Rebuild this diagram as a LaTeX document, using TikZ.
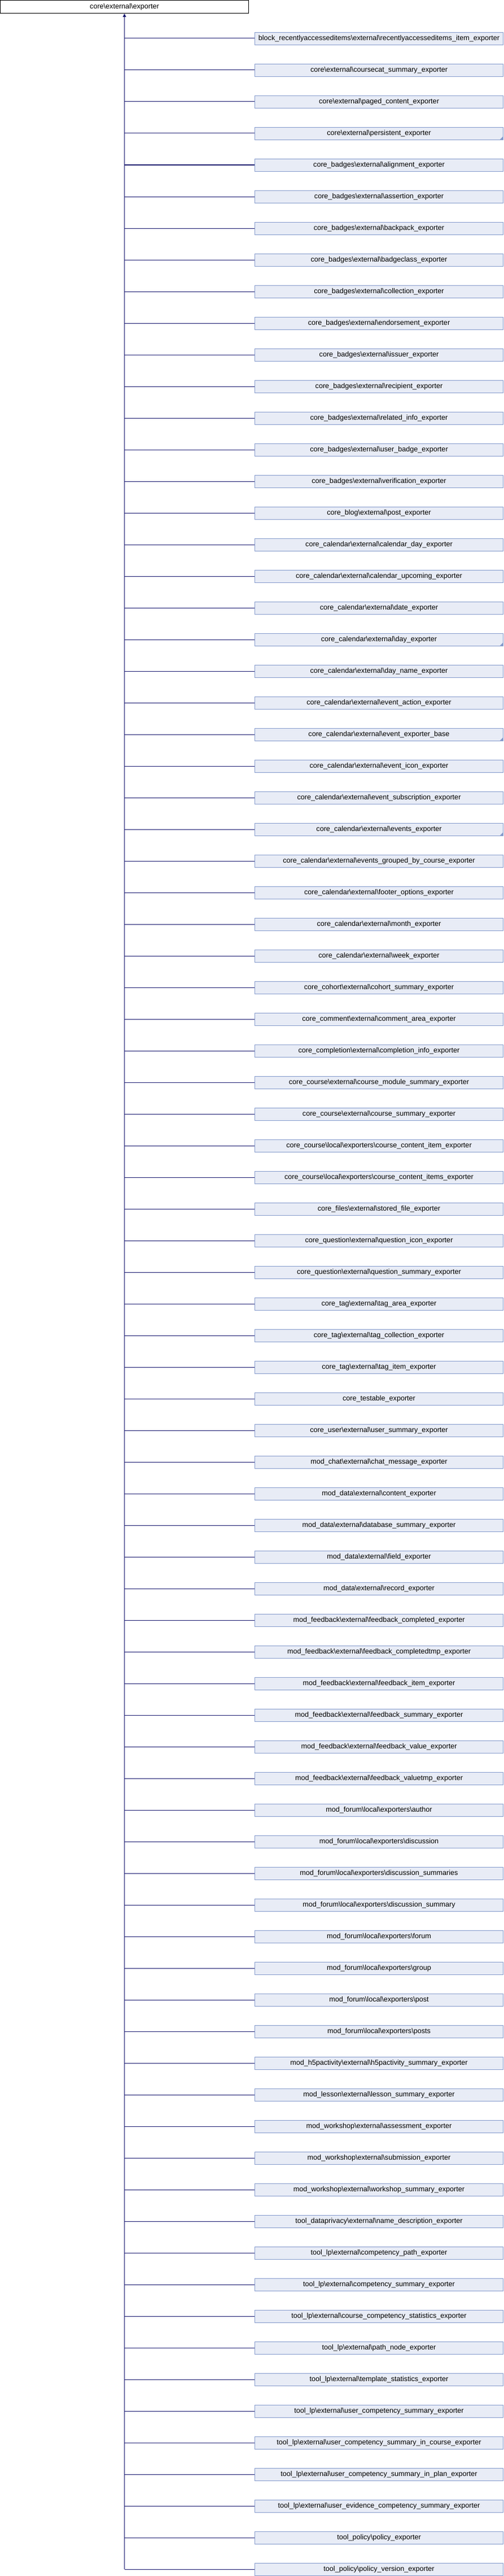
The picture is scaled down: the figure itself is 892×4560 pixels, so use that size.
\documentclass[tikz,border=0pt]{standalone}
\usepackage{fontspec}
\setmainfont{Liberation Sans}
\usepackage{tikz}
\definecolor{classfill}{RGB}{232,236,246}
\definecolor{classedge}{RGB}{132,154,204}
\definecolor{linkblue}{RGB}{25,25,112}
\usetikzlibrary{arrows.meta}
\newcommand\bs{\textbackslash}

\begin{document}
\catcode`\_=12
\begin{tikzpicture}[x=1pt,y=1pt,
        every node/.style={font=\fontsize{12.6}{14}\selectfont, inner sep=0pt},
        baseclass/.style={draw=black, fill=white, minimum width=440pt, minimum height=23pt},
        derived/.style={draw=classedge, fill=classfill, minimum width=440pt, minimum height=22pt},
        link/.style={draw=linkblue, line width=1pt}]
        \useasboundingbox (0,0) rectangle (892,-4560);

        \node[baseclass] (exporter) at (220.5,-12) {core\bs external\bs exporter};

        \foreach \name [count=\i] in {
            block_recentlyaccesseditems\bs external\bs recentlyaccesseditems_item_exporter,
            core\bs external\bs coursecat_summary_exporter,
            core\bs external\bs paged_content_exporter,
            core\bs external\bs persistent_exporter,
            core_badges\bs external\bs alignment_exporter,
            core_badges\bs external\bs assertion_exporter,
            core_badges\bs external\bs backpack_exporter,
            core_badges\bs external\bs badgeclass_exporter,
            core_badges\bs external\bs collection_exporter,
            core_badges\bs external\bs endorsement_exporter,
            core_badges\bs external\bs issuer_exporter,
            core_badges\bs external\bs recipient_exporter,
            core_badges\bs external\bs related_info_exporter,
            core_badges\bs external\bs user_badge_exporter,
            core_badges\bs external\bs verification_exporter,
            core_blog\bs external\bs post_exporter,
            core_calendar\bs external\bs calendar_day_exporter,
            core_calendar\bs external\bs calendar_upcoming_exporter,
            core_calendar\bs external\bs date_exporter,
            core_calendar\bs external\bs day_exporter,
            core_calendar\bs external\bs day_name_exporter,
            core_calendar\bs external\bs event_action_exporter,
            core_calendar\bs external\bs event_exporter_base,
            core_calendar\bs external\bs event_icon_exporter,
            core_calendar\bs external\bs event_subscription_exporter,
            core_calendar\bs external\bs events_exporter,
            core_calendar\bs external\bs events_grouped_by_course_exporter,
            core_calendar\bs external\bs footer_options_exporter,
            core_calendar\bs external\bs month_exporter,
            core_calendar\bs external\bs week_exporter,
            core_cohort\bs external\bs cohort_summary_exporter,
            core_comment\bs external\bs comment_area_exporter,
            core_completion\bs external\bs completion_info_exporter,
            core_course\bs external\bs course_module_summary_exporter,
            core_course\bs external\bs course_summary_exporter,
            core_course\bs local\bs exporters\bs course_content_item_exporter,
            core_course\bs local\bs exporters\bs course_content_items_exporter,
            core_files\bs external\bs stored_file_exporter,
            core_question\bs external\bs question_icon_exporter,
            core_question\bs external\bs question_summary_exporter,
            core_tag\bs external\bs tag_area_exporter,
            core_tag\bs external\bs tag_collection_exporter,
            core_tag\bs external\bs tag_item_exporter,
            core_testable_exporter,
            core_user\bs external\bs user_summary_exporter,
            mod_chat\bs external\bs chat_message_exporter,
            mod_data\bs external\bs content_exporter,
            mod_data\bs external\bs database_summary_exporter,
            mod_data\bs external\bs field_exporter,
            mod_data\bs external\bs record_exporter,
            mod_feedback\bs external\bs feedback_completed_exporter,
            mod_feedback\bs external\bs feedback_completedtmp_exporter,
            mod_feedback\bs external\bs feedback_item_exporter,
            mod_feedback\bs external\bs feedback_summary_exporter,
            mod_feedback\bs external\bs feedback_value_exporter,
            mod_feedback\bs external\bs feedback_valuetmp_exporter,
            mod_forum\bs local\bs exporters\bs author,
            mod_forum\bs local\bs exporters\bs discussion,
            mod_forum\bs local\bs exporters\bs discussion_summaries,
            mod_forum\bs local\bs exporters\bs discussion_summary,
            mod_forum\bs local\bs exporters\bs forum,
            mod_forum\bs local\bs exporters\bs group,
            mod_forum\bs local\bs exporters\bs post,
            mod_forum\bs local\bs exporters\bs posts,
            mod_h5pactivity\bs external\bs h5pactivity_summary_exporter,
            mod_lesson\bs external\bs lesson_summary_exporter,
            mod_workshop\bs external\bs assessment_exporter,
            mod_workshop\bs external\bs submission_exporter,
            mod_workshop\bs external\bs workshop_summary_exporter,
            tool_dataprivacy\bs external\bs name_description_exporter,
            tool_lp\bs external\bs competency_path_exporter,
            tool_lp\bs external\bs competency_summary_exporter,
            tool_lp\bs external\bs course_competency_statistics_exporter,
            tool_lp\bs external\bs path_node_exporter,
            tool_lp\bs external\bs template_statistics_exporter,
            tool_lp\bs external\bs user_competency_summary_exporter,
            tool_lp\bs external\bs user_competency_summary_in_course_exporter,
            tool_lp\bs external\bs user_competency_summary_in_plan_exporter,
            tool_lp\bs external\bs user_evidence_competency_summary_exporter,
            tool_policy\bs policy_exporter,
            tool_policy\bs policy_version_exporter}
            \node[derived] (c\i) at (671.5,{-68-56*(\i-1)}) {\name};

        % classes with more subclasses
        \foreach \i in {4,20,23,26}
            \fill[classedge] (c\i.south east) -- ++(-6,0) -- ++(6,6) -- cycle;

        \foreach \i in {1,...,81}
            \draw[link] (exporter.south |- c\i.west) -- (c\i.west);
        \draw[link,-{Triangle[length=6pt,width=6pt]}] (exporter.south |- c81.west) -- ([yshift=-0.5pt]exporter.south);
    \end{tikzpicture}
\end{document}
